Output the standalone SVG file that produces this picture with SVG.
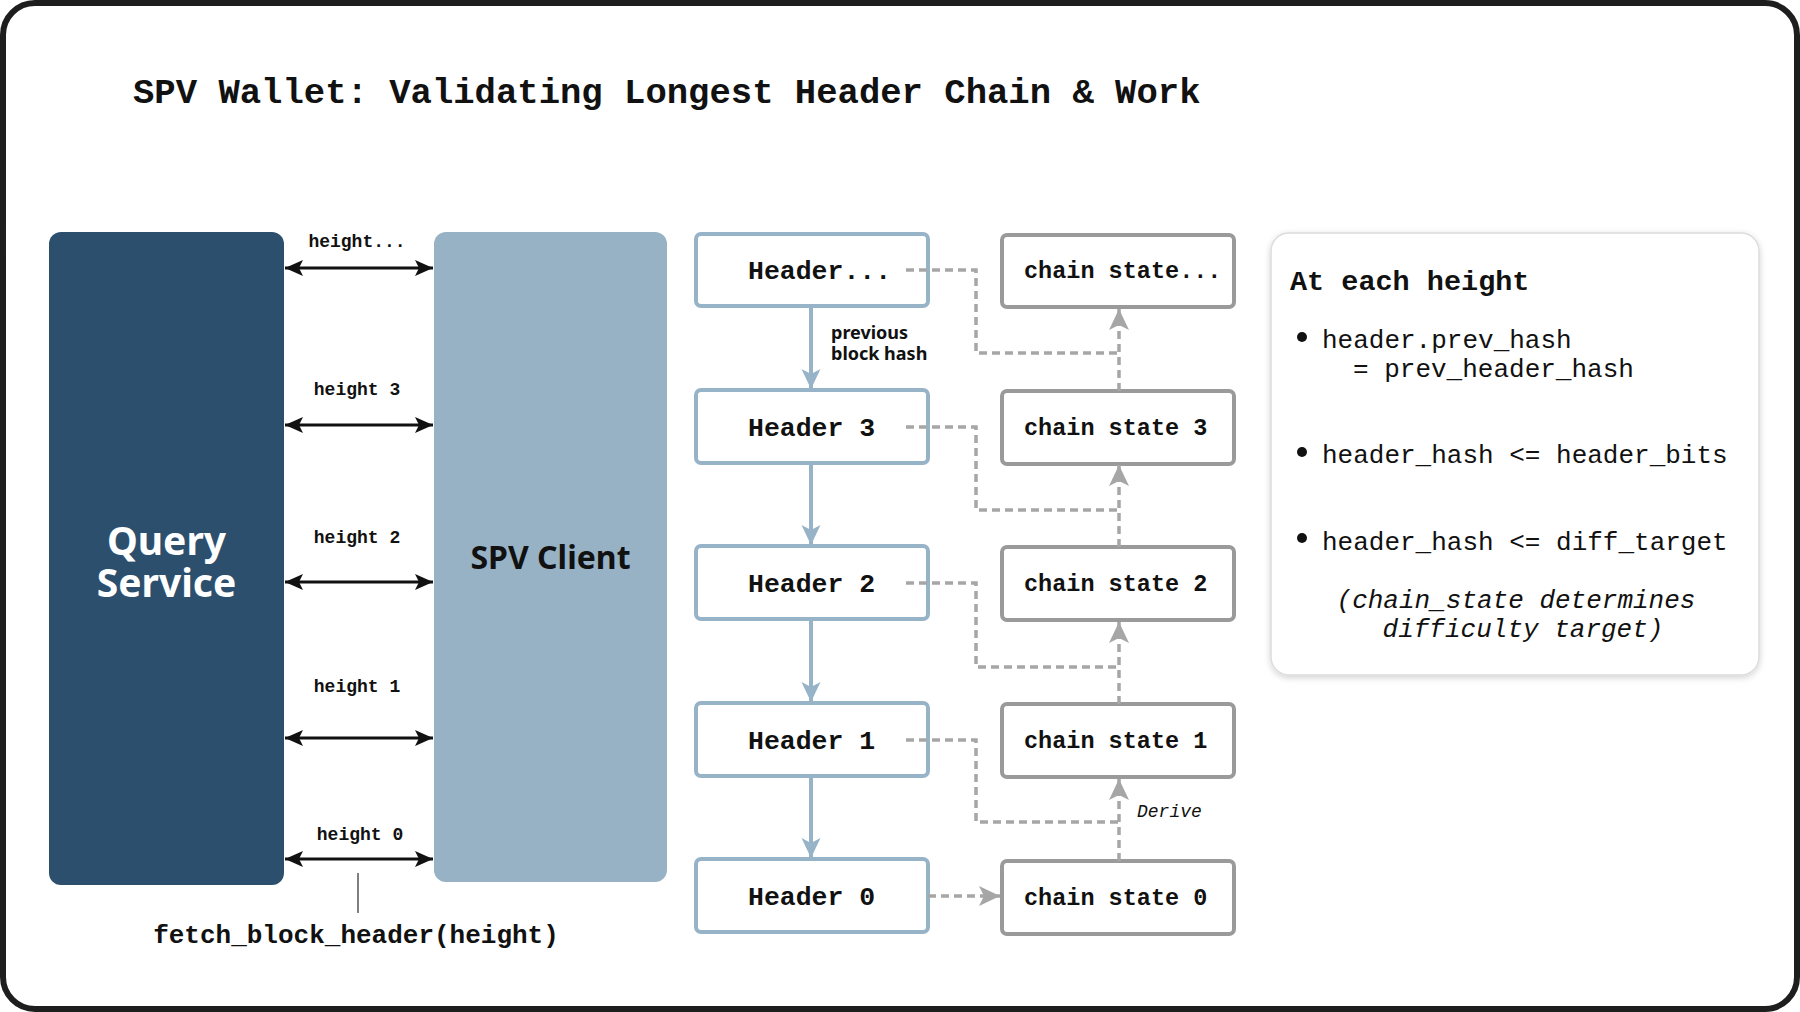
<svg xmlns="http://www.w3.org/2000/svg" width="1800" height="1012" viewBox="0 0 1800 1012">
<style>
.mono{font-family:"Liberation Mono","DejaVu Sans Mono",monospace}
.sans{font-family:"Noto Sans","Open Sans","Liberation Sans",sans-serif}
.hdr rect{fill:#fff;stroke:#97b3c8;stroke-width:4}
.cs rect{fill:#fff;stroke:#9a9a9a;stroke-width:4}
.hdr text{font-family:"Liberation Mono","DejaVu Sans Mono",monospace;font-weight:bold;font-size:26.5px;fill:#111}
.cs text{font-family:"Liberation Mono","DejaVu Sans Mono",monospace;font-weight:bold;font-size:23.5px;fill:#111}
.hl{font-family:"Liberation Mono","DejaVu Sans Mono",monospace;font-weight:bold;font-size:18px;fill:#111;text-anchor:middle}
.req{stroke:#111;stroke-width:3;fill:none;marker-start:url(#blkS);marker-end:url(#blkE)}
.prev{stroke:#97b3c8;stroke-width:4;fill:none;marker-end:url(#blu)}
.dash{stroke:#a6a6a6;stroke-width:3.5;fill:none;stroke-dasharray:8 5}
.panel{font-family:"Liberation Mono","DejaVu Sans Mono",monospace;font-size:26px;fill:#111}
</style>
<defs>
<marker id="blkE" markerUnits="userSpaceOnUse" markerWidth="20" markerHeight="18" refX="18" refY="8" orient="auto"><path d="M0,0 L18,8 L0,16 L4,8 Z" fill="#111"/></marker>
<marker id="blkS" markerUnits="userSpaceOnUse" markerWidth="20" markerHeight="18" refX="0" refY="8" orient="auto"><path d="M18,0 L0,8 L18,16 L14,8 Z" fill="#111"/></marker>
<marker id="blu" markerUnits="userSpaceOnUse" markerWidth="22" markerHeight="20" refX="20" refY="9.5" orient="auto"><path d="M0,0 L20,9.5 L0,19 L5,9.5 Z" fill="#97b3c8"/></marker>
<marker id="gry" markerUnits="userSpaceOnUse" markerWidth="24" markerHeight="21" refX="21" refY="10" orient="auto"><path d="M0,0 L21,10 L0,20 L5,10 Z" fill="#a6a6a6"/></marker>
<filter id="sh" x="-10%" y="-10%" width="120%" height="120%"><feDropShadow dx="0" dy="2" stdDeviation="3" flood-color="#000" flood-opacity="0.18"/></filter>
</defs>
<rect x="3" y="3" width="1794" height="1006" rx="32" fill="#fff" stroke="#1e1e1e" stroke-width="6"/>
<text x="133" y="103" class="mono" font-weight="bold" font-size="35.6" fill="#111">SPV Wallet: Validating Longest Header Chain &amp; Work</text>

<g id="query-service">
<rect x="49" y="232" width="235" height="653" rx="12" fill="#2d4f6e"/>
<text class="sans" font-weight="bold" font-size="39" fill="#fff" text-anchor="middle"><tspan x="166.5" y="555">Query</tspan><tspan x="166.5" y="597">Service</tspan></text>
</g>
<g id="spv-client">
<rect x="434" y="232" width="233" height="650" rx="12" fill="#97b1c5"/>
<text x="550.5" y="569" class="sans" font-weight="bold" font-size="32" fill="#111" text-anchor="middle">SPV Client</text>
</g>

<g id="header-n" class="hdr"><rect x="696" y="234" width="232" height="72" rx="5"/><text x="748" y="279">Header...</text></g>
<g id="header-3" class="hdr"><rect x="696" y="390" width="232" height="73" rx="5"/><text x="748" y="436">Header 3</text></g>
<g id="header-2" class="hdr"><rect x="696" y="546" width="232" height="73" rx="5"/><text x="748" y="592">Header 2</text></g>
<g id="header-1" class="hdr"><rect x="696" y="703" width="232" height="73" rx="5"/><text x="748" y="749">Header 1</text></g>
<g id="header-0" class="hdr"><rect x="696" y="859" width="232" height="73" rx="5"/><text x="748" y="905">Header 0</text></g>

<g id="chain-state-n" class="cs"><rect x="1002" y="235" width="232" height="72" rx="5"/><text x="1024" y="278">chain state...</text></g>
<g id="chain-state-3" class="cs"><rect x="1002" y="391" width="232" height="73" rx="5"/><text x="1024" y="435">chain state 3</text></g>
<g id="chain-state-2" class="cs"><rect x="1002" y="547" width="232" height="73" rx="5"/><text x="1024" y="591">chain state 2</text></g>
<g id="chain-state-1" class="cs"><rect x="1002" y="704" width="232" height="73" rx="5"/><text x="1024" y="748">chain state 1</text></g>
<g id="chain-state-0" class="cs"><rect x="1002" y="861" width="232" height="73" rx="5"/><text x="1024" y="905">chain state 0</text></g>

<g id="rules-panel">
<rect x="1271" y="233" width="488" height="442" rx="18" fill="#fff" stroke="#dcdcdc" stroke-width="1.5" filter="url(#sh)"/>
<text x="1290" y="290" class="mono" font-weight="bold" font-size="28.5" fill="#111">At each height</text>
<circle cx="1302" cy="337" r="5" fill="#111"/>
<text x="1322" y="348" class="panel">header.prev_hash</text>
<text x="1353" y="377" class="panel">= prev_header_hash</text>
<circle cx="1302" cy="452" r="5" fill="#111"/>
<text x="1322" y="463" class="panel">header_hash &lt;= header_bits</text>
<circle cx="1302" cy="538" r="5" fill="#111"/>
<text x="1322" y="550" class="panel">header_hash &lt;= diff_target</text>
<text x="1516" y="608" class="panel" font-style="italic" text-anchor="middle">(chain_state determines</text>
<text x="1523" y="637" class="panel" font-style="italic" text-anchor="middle">difficulty target)</text>
</g>

<g id="connectors">
<line class="req" x1="285" y1="268" x2="433" y2="268"/>
<line class="req" x1="285" y1="425" x2="433" y2="425"/>
<line class="req" x1="285" y1="582" x2="433" y2="582"/>
<line class="req" x1="285" y1="738" x2="433" y2="738"/>
<line class="req" x1="285" y1="859" x2="433" y2="859"/>
<text x="357" y="247" class="hl">height...</text>
<text x="357" y="395" class="hl">height 3</text>
<text x="357" y="543" class="hl">height 2</text>
<text x="357" y="692" class="hl">height 1</text>
<text x="360" y="840" class="hl">height 0</text>
<line x1="358" y1="873" x2="358" y2="913" stroke="#555" stroke-width="1.5"/>
<text x="356" y="943" class="mono" font-weight="bold" font-size="26" fill="#111" text-anchor="middle">fetch_block_header(height)</text>

<line class="prev" x1="811" y1="306" x2="811" y2="389"/>
<line class="prev" x1="811" y1="463" x2="811" y2="545"/>
<line class="prev" x1="811" y1="619" x2="811" y2="702"/>
<line class="prev" x1="811" y1="776" x2="811" y2="858"/>
<text x="831" y="339" class="sans" font-weight="bold" font-size="18" fill="#111">previous</text>
<text x="831" y="360" class="sans" font-weight="bold" font-size="18" fill="#111">block hash</text>

<path class="dash" d="M906,270 H976 V353 H1119"/>
<path class="dash" d="M906,427 H976 V510 H1119"/>
<path class="dash" d="M906,583 H976 V667 H1119"/>
<path class="dash" d="M906,740 H976 V822 H1119"/>
<path class="dash" d="M1119,391 V309" marker-end="url(#gry)"/>
<path class="dash" d="M1119,547 V465" marker-end="url(#gry)"/>
<path class="dash" d="M1119,704 V622" marker-end="url(#gry)"/>
<path class="dash" d="M1119,861 V779" marker-end="url(#gry)"/>
<path class="dash" d="M928,896 H1000" marker-end="url(#gry)"/>
<text x="1137" y="817" class="mono" font-style="italic" font-size="18" fill="#111">Derive</text>
</g>
</svg>
